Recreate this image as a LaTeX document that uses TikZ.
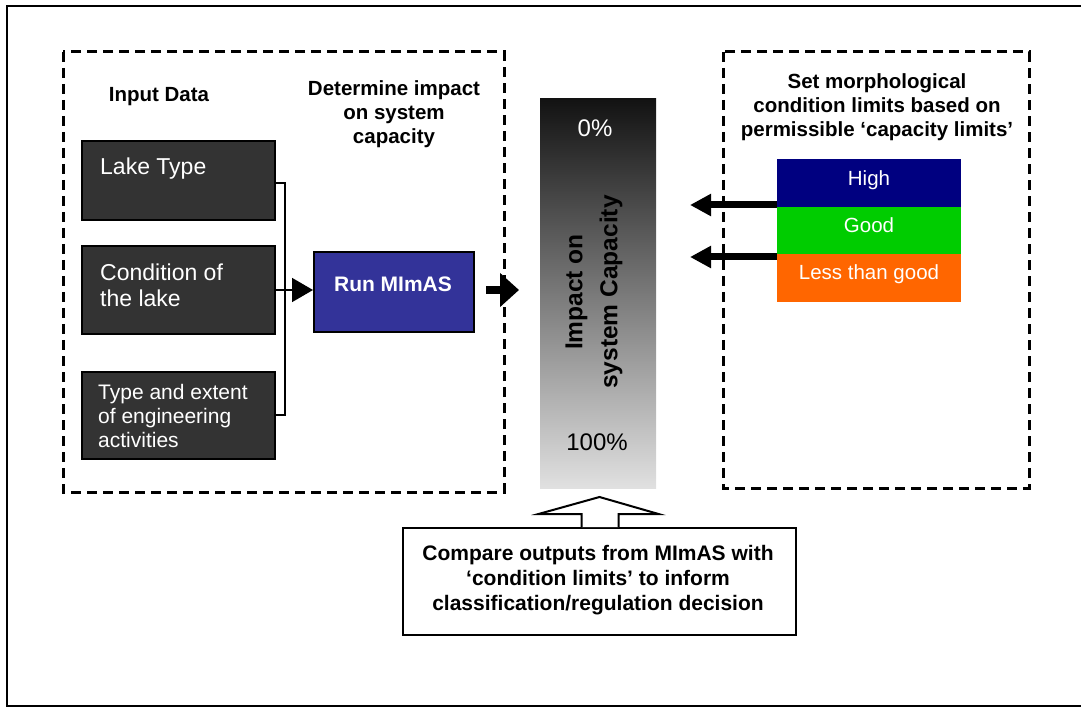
\documentclass[tikz,border=0pt]{standalone}
\usepackage{fontspec}
\setmainfont{Liberation Sans}
\usetikzlibrary{arrows.meta}
\definecolor{darkbox}{HTML}{333333}
\definecolor{runblue}{HTML}{333399}
\definecolor{highc}{HTML}{000080}
\definecolor{goodc}{HTML}{00CC00}
\definecolor{lessc}{HTML}{FF6600}
\tikzset{
  dashbox/.style={draw=black, line width=3pt, dash pattern=on 10pt off 6pt},
  inbox/.style={draw=black, line width=2pt, fill=darkbox, minimum width=193pt, anchor=north west, inner sep=0pt},
  intext/.style={text=white, font=\fontsize{23}{26}\selectfont, anchor=base west, inner sep=0pt, align=left},
  head/.style={font=\bfseries\fontsize{20.5}{24}\selectfont, align=center, inner sep=0pt, anchor=base},
  level/.style={minimum width=184pt, minimum height=47.5pt, anchor=north west, inner sep=0pt},
  leveltext/.style={text=white, font=\fontsize{20.5}{24}\selectfont, anchor=base, inner sep=0pt},
  bigarrow/.style={line width=8pt, -{Triangle[length=19pt, width=33pt]}},
  sidearrow/.style={line width=7pt, -{Triangle[length=21pt, width=21pt]}}
}
\begin{document}
\begin{tikzpicture}[x=1pt, y=-1pt]
\useasboundingbox (0,0) rectangle (1081,708);
% outer frame
\draw[line width=2pt] (7,6) rectangle (1085,706);
% dashed group boxes
\draw[dashbox] (63,52) rectangle (504,492);
\draw[dashbox] (723,52) rectangle (1029,488);

% headers (anchor = baseline of last line)
\node[head] (hin) at (159,102) {Input Data};
\node[head] (hdet) at (394,144) {Determine impact\\on system\\capacity};
\node[head] (hset) at (877,137) {Set morphological\\condition limits based on\\permissible ‘capacity limits’};

% input boxes
\node[inbox, minimum height=79pt] (lake) at (81,140) {};
\node[inbox, minimum height=88pt] (cond) at (81,245) {};
\node[inbox, minimum height=87pt] (typ) at (81,371) {};
\node[intext] (laket) at (100,175) {Lake Type};
\node[intext] (condt) at (100,307) {Condition of\\the lake};
\node[intext, font=\fontsize{21}{24}\selectfont] (typt) at (98,447) {Type and extent\\of engineering\\activities};

% run box
\node[draw=black, line width=2pt, fill=runblue, minimum width=160pt, minimum height=80pt, anchor=north west, inner sep=0pt] (run) at (313,251) {};
\node[text=white, font=\bfseries\fontsize{21}{24}\selectfont, anchor=base, inner sep=0pt] (runt) at (393,292) {Run MImAS};

% bracket connector
\coordinate (bj) at (285,290);
\draw[line width=1.6pt] (lake.east |- 0,183) -| (bj) |- (typ.east |- 0,415);
\draw[line width=1.6pt] (cond.east |- bj) -- (bj);
\draw[line width=1.6pt, -{Triangle[length=21pt, width=24pt]}] (bj) -- (run.west |- bj);

% gradient bar
\node[minimum width=116pt, minimum height=390pt, anchor=north west, inner sep=0pt,
      top color=black!93, bottom color=black!12, shading angle=0] (bar) at (540,98) {};
\node[text=white, font=\fontsize{24}{28}\selectfont, anchor=base, inner sep=0pt] (p0) at (595,137) {0\%};
\node[text=black, font=\fontsize{24}{28}\selectfont, anchor=base, inner sep=0pt] (p100) at (597,450) {100\%};
\node[rotate=90, font=\bfseries\fontsize{24.5}{35}\selectfont, align=center, inner sep=0pt] (imp) at (594,292) {Impact on\\system Capacity};

% arrow run -> bar
\draw[bigarrow, shorten <=11pt, shorten >=21pt] (run.east |- bj) -- (bar.west |- bj);

% levels
\node[level, fill=highc] (high) at (777,159) {};
\node[level, fill=goodc] (good) at (777,206.5) {};
\node[level, fill=lessc] (less) at (777,254) {};
\node[leveltext] (hight) at (869,186) {High};
\node[leveltext] (goodt) at (869,233) {Good};
\node[leveltext] (lesst) at (869,280) {Less than good};

\coordinate (t1) at (690,205);
\coordinate (t2) at (690,257);
\draw[sidearrow] (high.west |- t1) -- (t1);
\draw[sidearrow] (less.west |- t2) -- (t2);

% compare box
\node[draw=black, line width=2pt, fill=white, minimum width=393pt, minimum height=107pt, anchor=north west, inner sep=0pt] (cmp) at (402,527) {};
\node[head, font=\bfseries\fontsize{21}{25}\selectfont] (cmpt) at (598,610) {Compare outputs from MImAS with\\‘condition limits’ to inform\\classification/regulation decision};

% block arrow up
\draw[line width=2pt, fill=white, line join=miter]
  ([xshift=-18pt]cmp.north) -- ([xshift=-18pt, yshift=13pt]cmp.north) -- ([xshift=-61pt, yshift=13pt]cmp.north) -- ([yshift=30pt]cmp.north) -- ([xshift=59pt, yshift=13pt]cmp.north) -- ([xshift=19pt, yshift=13pt]cmp.north) -- ([xshift=19pt]cmp.north);
\end{tikzpicture}
\end{document}
